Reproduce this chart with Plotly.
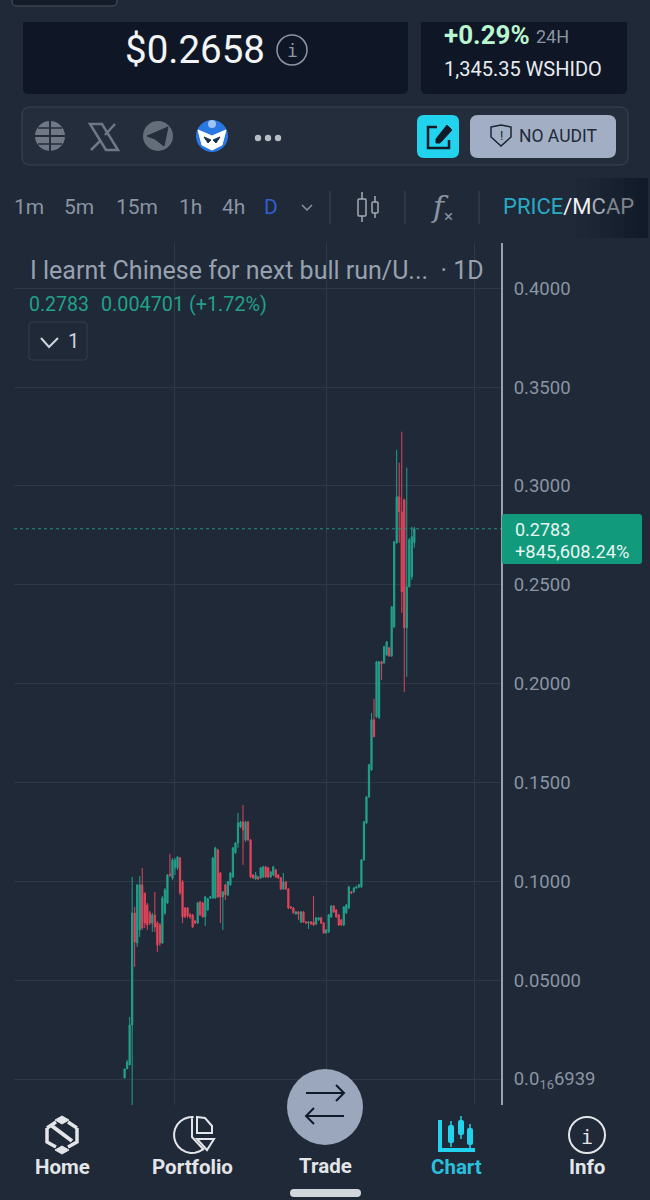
import math
import plotly.graph_objects as go

# ---- chart data ----
opens = [.0005,.0051,.0071,.0273,.0840,.0688,.0754,.0982,.0941,.0880,.0840,.0789,.0830,.0789,.0779,.0688,.0840,.0891,.1037,.1017,.1068,.1068,.1118,.0997,.0865,.0865,.0830,.0830,.0799,.0789,.0896,.0891,.0820,.0855,.0916,.0916,.0916,.1159,.1042,.0921,.0982,.0931,.0982,.1022,.1144,.1194,.1275,.1300,.1209,.1300,
         .1209,.1032,.1012,.1022,.1017,.1022,.1073,.1068,.1022,.1032,.1058,.1032,.1017,.0961,.0997,.0961,.0870,.0865,.0835,.0845,.0794,.0845,.0794,.0789,.0794,.0794,.0784,.0805,.0815,.0789,.0739,.0744,.0820,.0875,.0855,.0830,.0804,.0779,.0840,.0865,.0946,.0946,.0966,.0972,.0972,.1108,.1295,.1427,.1564,.1817,.1832,.1827,.2110,.2105,.2145,.2181,.2140,.2287,.2712,.2945,.2869,.2930,.2282,.2490,.2540,.2712]
highs = [.0051,.0096,.0314,.1022,.0870,.0982,.1027,.1068,.0941,.0891,.0850,.0840,.0946,.0799,.0789,.0926,.0966,.1037,.1139,.1118,.1118,.1128,.1123,.1007,.0870,.0870,.0840,.0835,.0805,.0896,.0901,.0896,.0926,.0916,.0926,.1123,.1174,.1164,.1047,.0951,.0987,.1002,.1047,.1174,.1199,.1346,.1306,.1386,.1306,.1306,
         .1214,.1037,.1047,.1027,.1073,.1078,.1078,.1073,.1052,.1078,.1063,.1037,.1022,.1042,.1002,.0966,.0875,.0870,.0850,.0850,.0850,.0850,.0799,.0799,.0799,.0926,.0820,.0820,.0820,.0794,.0759,.0835,.0880,.0880,.0860,.0835,.0809,.0875,.0885,.0977,.0951,.0972,.0977,.0987,.1113,.1306,.1432,.1594,.1852,.1923,.2115,.2115,.2115,.2191,.2216,.2186,.2393,.2722,.3183,.3117,.3274,.2935,.3092,.2737,.2793,.2793]
lows = [.0005,.0051,.0071,-.0132,.0567,.0668,.0719,.0754,.0764,.0754,.0779,.0744,.0744,.0643,.0673,.0683,.0830,.0886,.1022,.1007,.1032,.1058,.0931,.0789,.0815,.0815,.0810,.0764,.0784,.0784,.0825,.0815,.0774,.0850,.0911,.0911,.0911,.0916,.0789,.0754,.0906,.0926,.0977,.1017,.1139,.1169,.1270,.1083,.1199,.1204,
        .1017,.1012,.1007,.1007,.1012,.1017,.1017,.1017,.1017,.1027,.1017,.1012,.0956,.0956,.0956,.0860,.0860,.0835,.0830,.0805,.0789,.0789,.0784,.0759,.0779,.0774,.0779,.0800,.0784,.0734,.0734,.0739,.0815,.0840,.0815,.0774,.0774,.0774,.0835,.0860,.0936,.0941,.0961,.0966,.0966,.1103,.1290,.1422,.1559,.1731,.1827,.1822,.2019,.2100,.2140,.2135,.2135,.2282,.2707,.2712,.2358,.1958,.2034,.2485,.2525,.2687]
closes = [.0051,.0086,.0273,.0840,.0693,.0982,.0982,.0764,.0789,.0779,.0789,.0830,.0769,.0678,.0688,.0916,.0956,.1032,.1032,.1108,.1108,.1123,.0941,.0820,.0820,.0825,.0820,.0769,.0789,.0891,.0830,.0820,.0921,.0911,.0921,.1118,.1169,.0921,.0921,.0946,.0931,.0997,.1042,.1169,.1194,.1295,.1300,.1260,.1300,.1209,
          .1022,.1017,.1032,.1012,.1068,.1073,.1022,.1022,.1047,.1073,.1022,.1017,.0961,.0997,.0961,.0865,.0865,.0840,.0845,.0835,.0845,.0794,.0789,.0794,.0784,.0779,.0815,.0815,.0789,.0739,.0754,.0830,.0875,.0845,.0820,.0779,.0779,.0870,.0880,.0972,.0941,.0966,.0972,.0982,.1108,.1300,.1427,.1589,.1817,.1731,.2110,.2110,.2100,.2186,.2211,.2140,.2388,.2717,.2945,.2869,.2464,.2282,.2490,.2727,.2743,.2783]
candle_index = list(range(len(opens)))
y_ticks = [0, .05, .10, .15, .20, .25, .30, .35, .40]
y_labels = ["0.0<sub>16</sub>6939", "0.05000", "0.1000", "0.1500", "0.2000", "0.2500", "0.3000", "0.3500", "0.4000"]
x_grid = [20, 80, 139]
last_price = 0.2783
title_text = "I learnt Chinese for next bull run/U...  · 1D"
timeframes = ["1m", "5m", "15m", "1h", "4h"]
timeframe_x = [29, 79, 137, 190, 233]
nav_labels = ["Home", "Portfolio", "Trade", "Chart", "Info"]
nav_x = [62, 193, 325, 456, 587]

BG = "#1f2937"; CARD = "#0f1726"; GRID = "#2e3846"; GREEN = "#22a08a"; RED = "#e0455b"
CYAN = "#22d3ee"; MUTED = "#8b94a3"; SLATE = "#9aa7bd"; FONT = "Roboto"

px = lambda x: x / 650
py = lambda y: 1 - y / 1200
shapes, notes = [], []

def rrect(x0, y0, x1, y1, r, fill="rgba(0,0,0,0)", line=None, lw=1):
    p = (f"M{px(x0+r)},{py(y0)} L{px(x1-r)},{py(y0)} Q{px(x1)},{py(y0)} {px(x1)},{py(y0+r)} "
         f"L{px(x1)},{py(y1-r)} Q{px(x1)},{py(y1)} {px(x1-r)},{py(y1)} L{px(x0+r)},{py(y1)} "
         f"Q{px(x0)},{py(y1)} {px(x0)},{py(y1-r)} L{px(x0)},{py(y0+r)} Q{px(x0)},{py(y0)} {px(x0+r)},{py(y0)} Z")
    shapes.append(dict(type="path", path=p, xref="paper", yref="paper", fillcolor=fill,
                       line=dict(color=line or "rgba(0,0,0,0)", width=lw if line else 0), layer="above"))

def rect(x0, y0, x1, y1, fill):
    shapes.append(dict(type="rect", xref="paper", yref="paper", x0=px(x0), x1=px(x1), y0=py(y1), y1=py(y0),
                       fillcolor=fill, line=dict(width=0), layer="above"))

def circ(cx, cy, r, fill="rgba(0,0,0,0)", line=None, lw=2):
    shapes.append(dict(type="circle", xref="paper", yref="paper", x0=px(cx-r), x1=px(cx+r), y0=py(cy+r), y1=py(cy-r),
                       fillcolor=fill, line=dict(color=line or "rgba(0,0,0,0)", width=lw if line else 0), layer="above"))

def seg(pts, color, lw=2, fill="rgba(0,0,0,0)", close=False):
    p = "M" + " L".join(f"{px(x)},{py(y)}" for x, y in pts) + (" Z" if close else "")
    shapes.append(dict(type="path", path=p, xref="paper", yref="paper", fillcolor=fill,
                       line=dict(color=color, width=lw), layer="above"))

def text(x, y, s, size, color, anchor="left", family=FONT):
    notes.append(dict(x=px(x), y=py(y), xref="paper", yref="paper", text=s, showarrow=False, xanchor=anchor,
                      yanchor="middle", borderpad=0, font=dict(size=size, color=color, family=family)))

# --- chart overlays
shapes.append(dict(type="line", xref="paper", yref="y", x0=px(14), x1=px(501), y0=last_price, y1=last_price,
                   line=dict(color="#2a8f80", width=1, dash="dot"), layer="above"))
rrect(502, 514, 642, 564, 3, fill="#129a7d")
text(514, 529, "0.2783", 18, "#e8f5f1")
text(514, 551, "+845,608.24%", 18.3, "#e8f5f1")
text(29, 270, title_text, 25, "#98a1af")
text(28, 304, "0.2783", 19.5, GREEN)
text(100, 304, "0.004701 (+1.72%)", 19.8, GREEN)
rrect(29, 322, 87, 360, 3, line="#343e4d")
seg([(41, 338), (49, 347), (58, 338)], "#cfd4db", 2)
text(67, 341, "1", 20, "#cfd4db")

# --- top panel
rect(0, 0, 650, 22, BG)
rrect(12, -10, 117, 6, 5, line="#4a5462", fill="#141c2a")
rrect(23, 22, 408, 94, 6, fill=CARD)
rect(23, 22, 408, 30, CARD)
rrect(421, 22, 627, 94, 6, fill=CARD)
rect(421, 22, 627, 30, CARD)
text(124, 50, "$0.2658", 38.5, "#f2f4f6")
circ(292, 50, 15, line="#8f96a3", lw=1.5)
text(292, 51, "i", 18, "#8f96a3", "center", "DejaVu Sans Mono")
text(443, 35, "<b>+0.29%</b>", 26, "#b9f6cf")
text(535, 36, "24H", 18, MUTED)
text(443, 69, "1,345.35 WSHIDO", 20, "#e8ebef")

rrect(22, 107, 628, 165, 8, fill="#232d3b", line="#3a4453")
# globe
circ(50, 136, 15, fill="#6f7884")
seg([(35, 136), (65, 136)], "#232d3b", 2)
seg([(50, 121), (50, 151)], "#232d3b", 2)
seg([(38, 128), (62, 128)], "#232d3b", 1.5)
seg([(38, 144), (62, 144)], "#232d3b", 1.5)
# X
seg([(90, 124), (102, 124), (118, 150), (106, 150)], "#6f7884", 2.5, close=True)
seg([(115, 124), (105, 135)], "#6f7884", 2.5)
seg([(101, 140), (91, 150)], "#6f7884", 2.5)
# telegram
circ(158, 136, 15, fill="#646d7a")
seg([(147, 136), (168, 127), (164, 146), (155, 139)], "#232d3b", 1, fill="#232d3b", close=True)
# project logo
circ(212, 136, 16, fill="#2a78e4")
seg([(198, 130), (212, 136), (226, 130), (222, 145), (212, 150), (202, 145)], "#ffffff", 1, fill="#ffffff", close=True)
seg([(204, 137), (211, 140), (208, 143)], "#16324f", 1, fill="#16324f", close=True)
seg([(220, 137), (213, 140), (216, 143)], "#16324f", 1, fill="#16324f", close=True)
circ(212, 124, 4, fill="#9ec5f5")
for cx in (258, 268, 278):
    circ(cx, 138, 3.2, fill="#b7bcc3")
# edit button
rrect(417, 115, 459, 158, 7, fill=CYAN)
seg([(437, 127), (428, 127), (428, 148), (449, 148), (449, 140)], "#101a28", 2.5)
seg([(436, 139), (447, 125), (452, 130), (440, 143), (436, 143)], "#101a28", 1, fill="#101a28", close=True)
# audit button
rrect(470, 115, 616, 158, 8, fill="#a2aec4")
seg([(491, 127), (501, 125), (511, 127), (511, 137), (501, 146), (491, 137)], "#1b2431", 1.5, close=True)
text(501, 135, "!", 13, "#1b2431", "center")
text(518, 136, "NO AUDIT", 17.5, "#1f2937")

# --- timeframe row
for tf, tx in zip(timeframes, timeframe_x):
    text(tx, 207, tf, 21, MUTED, "center")
text(271, 207, "D", 21, "#2f5fd0", "center")
seg([(302, 205), (307, 210), (312, 205)], MUTED, 1.5)
for vx in (330, 405, 479):
    seg([(vx, 191), (vx, 224)], "#3d4655", 1)
seg([(362, 192), (362, 222)], "#a5abb5", 1.5)
seg([(375, 196), (375, 218)], "#a5abb5", 1.5)
rrect(358, 199, 366, 216, 1, fill=BG, line="#a5abb5", lw=1.5)
rrect(372, 202, 378, 213, 1, fill=BG, line="#a5abb5", lw=1.5)
text(440, 207, "<i>f</i>", 30, MUTED, "center", "DejaVu Serif")
text(448, 216, "×", 17, MUTED, "center")
text(502, 207, "<span style='color:#29a9c4'>PRICE</span><span style='color:#f0f2f4'>/M</span><span style='color:#a9aeb6'>C</span><span style='color:#7d838c'>AP</span>", 22, "#f0f2f4")
for i, a in enumerate((0.08, 0.2, 0.35, 0.5, 0.65, 0.75)):
    rect(576 + i * 12, 178, 588 + i * 12, 238, f"rgba(15,23,38,{a})")

# --- bottom nav
rect(0, 1105, 650, 1200, BG)
circ(325, 1107, 38, fill=SLATE)
seg([(306, 1093), (344, 1093)], "#101a28", 2)
seg([(336, 1085), (344, 1093), (336, 1101)], "#101a28", 2)
seg([(306, 1116), (344, 1116)], "#101a28", 2)
seg([(314, 1108), (306, 1116), (314, 1124)], "#101a28", 2)
for s, nx in zip(nav_labels, nav_x):
    color = "#2bbfdc" if s == "Chart" else "#e3e5e8"
    text(nx, 1167 if s != "Trade" else 1166, f"<b>{s}</b>", 20.5, color, "center")
# home
LIGHT = "#e3e5e8"
seg([(62, 1116), (69, 1120), (62, 1124), (55, 1120)], LIGHT, 1, fill=LIGHT, close=True)
seg([(62, 1146), (69, 1150), (62, 1154), (55, 1150)], LIGHT, 1, fill=LIGHT, close=True)
seg([(47, 1128), (47, 1142), (56, 1147)], LIGHT, 3.5)
seg([(77, 1128), (77, 1142), (68, 1147)], LIGHT, 3.5)
seg([(52, 1126), (72, 1141)], LIGHT, 4)
seg([(68, 1122), (77, 1128)], LIGHT, 3.5)
seg([(47, 1128), (56, 1122)], LIGHT, 3.5)
# portfolio
arc = [(192 + 18 * math.cos(math.radians(a)), 1135 + 18 * math.sin(math.radians(a))) for a in range(50, 280, 15)]
seg(arc + [(192, 1117), (192, 1137), (204, 1150)], LIGHT, 2)
seg([(197, 1117), (205, 1118), (212, 1126), (212, 1133), (197, 1133)], LIGHT, 2, close=True)
seg([(197, 1139), (214, 1139), (207, 1150)], LIGHT, 2, close=True)
# chart
seg([(440, 1120), (440, 1150), (475, 1150)], CYAN, 4)
for cx, t, b in ((451, 1125, 1143), (461, 1120, 1135), (470, 1128, 1145)):
    seg([(cx, t - 4), (cx, b + 4)], CYAN, 1.5)
    rrect(cx - 3, t, cx + 3, b, 2, fill=CYAN)
# info
circ(587, 1135, 18, line=LIGHT, lw=2)
text(587, 1137, "i", 20, LIGHT, "center", "DejaVu Sans Mono")
rrect(290, 1189, 361, 1197, 4, fill="#d3d6db")

fig = go.Figure(go.Candlestick(
    x=candle_index, open=opens, high=highs, low=lows, close=closes,
    increasing=dict(line=dict(color=GREEN, width=1), fillcolor=GREEN),
    decreasing=dict(line=dict(color=RED, width=1), fillcolor=RED),
    whiskerwidth=0, hoverinfo="skip", showlegend=False))

fig.update_layout(
    width=650, height=1200, margin=dict(l=0, r=0, t=0, b=0), autosize=False,
    paper_bgcolor=BG, plot_bgcolor=BG, showlegend=False, dragmode=False,
    font=dict(family=FONT), shapes=shapes, annotations=notes,
    xaxis=dict(domain=[px(14), px(501)], range=[-43.9, 149.4], rangeslider=dict(visible=False),
               tickmode="array", tickvals=x_grid, showticklabels=False, ticks="", showgrid=True,
               gridcolor=GRID, gridwidth=1, zeroline=False, showline=False, fixedrange=True),
    yaxis=dict(domain=[py(1105), py(243)], range=[-26 / 1977, 836 / 1977], side="right", anchor="x",
               tickmode="array", tickvals=y_ticks, ticktext=y_labels, ticks="outside", ticklen=7,
               tickcolor="rgba(0,0,0,0)", tickfont=dict(size=18.5, color=MUTED, family=FONT),
               showgrid=True, gridcolor=GRID, gridwidth=1, zeroline=False,
               showline=True, linecolor="#98a1af", linewidth=2, fixedrange=True),
)

fig.write_html("out.html", config=dict(displayModeBar=False),
               post_script="document.body.style.margin='0';document.body.style.background='#1f2937';")
